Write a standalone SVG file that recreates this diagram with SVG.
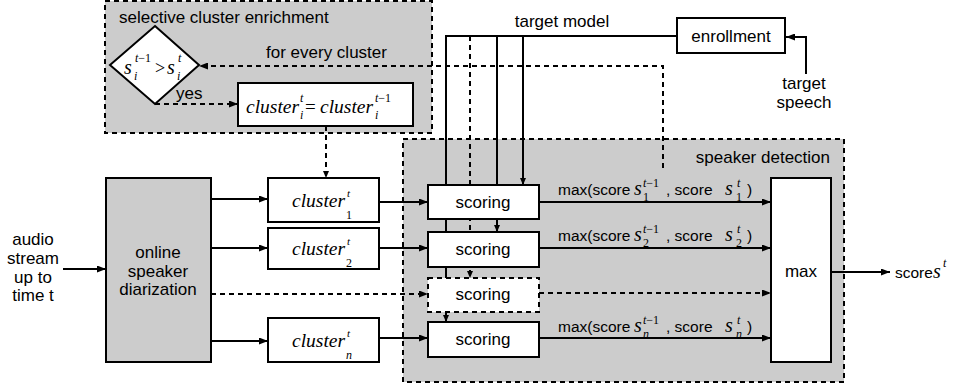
<svg xmlns="http://www.w3.org/2000/svg" width="958" height="389" viewBox="0 0 958 389">
<defs>
<marker id="ah" markerWidth="9" markerHeight="7" refX="9" refY="3.5" orient="auto" markerUnits="userSpaceOnUse">
<path d="M0,0 L9,3.5 L0,7 z" fill="#000"/>
</marker>
<marker id="ahs" markerWidth="7" markerHeight="6" refX="7" refY="3" orient="auto" markerUnits="userSpaceOnUse">
<path d="M0,0 L7,3 L0,6 z" fill="#000"/>
</marker>
<style>
.t{font-family:"Liberation Sans",Arial,sans-serif;font-size:17px;fill:#000}
.c{text-anchor:middle}
.lb{font-family:"Liberation Sans",Arial,sans-serif;font-size:15.5px;fill:#000}
.m{font-family:"Liberation Serif","Times New Roman",serif;font-style:italic;fill:#000}
.mn{font-family:"Liberation Serif","Times New Roman",serif;font-style:normal;fill:#000}
.box{fill:#fff;stroke:#000;stroke-width:2}
.gbox{fill:#cccccc;stroke:#000;stroke-width:2}
.area{fill:#cccccc;stroke:#000;stroke-width:2;stroke-dasharray:5,4}
.ln{fill:none;stroke:#000;stroke-width:2}
.dl{fill:none;stroke:#000;stroke-width:2;stroke-dasharray:5,4}
</style>
</defs>
<rect width="958" height="389" fill="#fff"/>

<g id="speaker-detection">
<rect class="area" x="403" y="139" width="441" height="243"/>
<text class="t" x="830" y="163" text-anchor="end">speaker detection</text>
</g>

<g id="selective-cluster-enrichment">
<rect class="area" x="105" y="1" width="327" height="132"/>
<text class="t" x="119" y="23">selective cluster enrichment</text>
<text class="t" x="266" y="58">for every cluster</text>
<text class="t" x="176" y="99">yes</text>
</g>

<g id="connectors">
<polyline class="ln" points="677,36 446,36 446,322" marker-end="url(#ahs)"/>
<line class="dl" x1="470" y1="36" x2="470" y2="278" marker-end="url(#ahs)"/>
<line class="ln" x1="497" y1="36" x2="497" y2="232" marker-end="url(#ahs)"/>
<line class="ln" x1="523" y1="36" x2="523" y2="185" marker-end="url(#ahs)"/>
<polyline class="ln" points="806,74 806,37 786,37" marker-end="url(#ah)"/>
<polyline class="dl" points="663,168 663,66 199,66" marker-end="url(#ah)"/>
<polyline class="dl" points="155,104 238,104" marker-end="url(#ah)"/>
<line class="dl" x1="326" y1="126" x2="326" y2="178" marker-end="url(#ahs)"/>
<line class="ln" x1="63" y1="269" x2="106" y2="269" marker-end="url(#ah)"/>
<line class="ln" x1="211" y1="199" x2="268" y2="199" marker-end="url(#ah)"/>
<line class="ln" x1="211" y1="248" x2="268" y2="248" marker-end="url(#ah)"/>
<line class="dl" x1="211" y1="294" x2="428" y2="294" marker-end="url(#ah)"/>
<line class="ln" x1="211" y1="341" x2="268" y2="341" marker-end="url(#ah)"/>
<line class="ln" x1="379" y1="202" x2="428" y2="202" marker-end="url(#ah)"/>
<line class="ln" x1="379" y1="248" x2="428" y2="248" marker-end="url(#ah)"/>
<line class="ln" x1="379" y1="338" x2="428" y2="338" marker-end="url(#ah)"/>
<line class="ln" x1="539" y1="202" x2="771" y2="202" marker-end="url(#ah)"/>
<line class="ln" x1="539" y1="248" x2="771" y2="248" marker-end="url(#ah)"/>
<line class="dl" x1="539" y1="293" x2="771" y2="293" marker-end="url(#ah)"/>
<line class="ln" x1="539" y1="338" x2="771" y2="338" marker-end="url(#ah)"/>
<line class="ln" x1="831" y1="272" x2="890" y2="272" marker-end="url(#ah)"/>
</g>

<g id="labels">
<text class="t" x="562" y="27" text-anchor="middle">target model</text>
<text class="t c" x="804" y="89">target</text>
<text class="t c" x="804" y="108">speech</text>
<text class="t c" x="33" y="245">audio</text>
<text class="t c" x="33" y="264">stream</text>
<text class="t c" x="33" y="283">up to</text>
<text class="t c" x="33" y="301">time t</text>
<g transform="translate(0,195)">
<text class="lb" x="558" y="0">max(score</text>
<text class="m" x="634" y="0" font-size="20">s</text>
<text class="m" x="643" y="-8" font-size="12">t<tspan class="mn">−1</tspan></text>
<text class="mn" x="643" y="6" font-size="12">1</text>
<text class="lb" x="666" y="0">, score</text>
<text class="m" x="725" y="0" font-size="20">s</text>
<text class="m" x="737" y="-8" font-size="12">t</text>
<text class="mn" x="736" y="6" font-size="12">1</text>
<text class="lb" x="747" y="0">)</text>
</g>
<g transform="translate(0,241)">
<text class="lb" x="558" y="0">max(score</text>
<text class="m" x="634" y="0" font-size="20">s</text>
<text class="m" x="643" y="-8" font-size="12">t<tspan class="mn">−1</tspan></text>
<text class="mn" x="643" y="6" font-size="12">2</text>
<text class="lb" x="666" y="0">, score</text>
<text class="m" x="725" y="0" font-size="20">s</text>
<text class="m" x="737" y="-8" font-size="12">t</text>
<text class="mn" x="736" y="6" font-size="12">2</text>
<text class="lb" x="747" y="0">)</text>
</g>
<g transform="translate(0,332)">
<text class="lb" x="558" y="0">max(score</text>
<text class="m" x="634" y="0" font-size="20">s</text>
<text class="m" x="643" y="-8" font-size="12">t<tspan class="mn">−1</tspan></text>
<text class="m" x="643" y="6" font-size="12">n</text>
<text class="lb" x="666" y="0">, score</text>
<text class="m" x="725" y="0" font-size="20">s</text>
<text class="m" x="737" y="-8" font-size="12">t</text>
<text class="m" x="736" y="6" font-size="12">n</text>
<text class="lb" x="747" y="0">)</text>
</g>
<text class="lb" x="895" y="278" font-size="14.5">score</text>
<text class="m" x="933" y="278" font-size="20">s</text>
<text class="m" x="943" y="267" font-size="12">t</text>
</g>

<g id="condition">
<polygon points="155,26 199,65 155,104 110,65" fill="#fff" stroke="#000" stroke-width="2"/>
<text class="m" x="124" y="74" font-size="20">s</text>
<text class="m" x="135" y="62" font-size="12">t<tspan class="mn">−1</tspan></text>
<text class="m" x="134" y="80" font-size="12">i</text>
<text class="mn" x="155" y="74" font-size="18">&gt;</text>
<text class="m" x="167" y="74" font-size="20">s</text>
<text class="m" x="178" y="62" font-size="12">t</text>
<text class="m" x="177" y="80" font-size="12">i</text>
</g>

<g id="cluster-update">
<rect class="box" x="238" y="83" width="175" height="43"/>
<text class="m" x="246" y="113" font-size="19.5">cluster</text>
<text class="m" x="300" y="102" font-size="12">t</text>
<text class="m" x="300" y="119" font-size="12">i</text>
<text class="mn" x="305" y="113" font-size="19">=</text>
<text class="m" x="320" y="113" font-size="19.5">cluster</text>
<text class="m" x="375" y="102" font-size="12">t<tspan class="mn">−1</tspan></text>
<text class="m" x="375" y="119" font-size="12">i</text>
</g>

<g id="enrollment">
<rect class="box" x="677" y="18" width="108" height="35"/>
<text class="t c" x="731" y="42">enrollment</text>
</g>

<g id="diarization">
<rect class="gbox" x="106" y="178" width="105" height="184"/>
<text class="t c" x="158" y="258">online</text>
<text class="t c" x="158" y="277">speaker</text>
<text class="t c" x="158" y="295">diarization</text>
</g>

<g id="cluster-1">
<rect class="box" x="268" y="178" width="111" height="44"/>
<text class="m" x="292" y="207" font-size="19.5">cluster</text>
<text class="m" x="347" y="197" font-size="11">t</text>
<text class="mn" x="346" y="219" font-size="12">1</text>
</g>
<g id="cluster-2">
<rect class="box" x="268" y="228" width="111" height="41"/>
<text class="m" x="292" y="255" font-size="19.5">cluster</text>
<text class="m" x="347" y="245" font-size="11">t</text>
<text class="mn" x="346" y="267" font-size="12">2</text>
</g>
<g id="cluster-n">
<rect class="box" x="268" y="318" width="111" height="44"/>
<text class="m" x="292" y="347" font-size="19.5">cluster</text>
<text class="m" x="347" y="337" font-size="11">t</text>
<text class="m" x="346" y="359" font-size="12">n</text>
</g>

<g id="scoring-1">
<rect class="box" x="428" y="185" width="111" height="34"/>
<text class="t c" x="483" y="208">scoring</text>
</g>
<g id="scoring-2">
<rect class="box" x="428" y="232" width="111" height="35"/>
<text class="t c" x="483" y="255">scoring</text>
</g>
<g id="scoring-dots">
<rect class="box" x="428" y="278" width="111" height="34" stroke-dasharray="5,4"/>
<text class="t c" x="483" y="300">scoring</text>
</g>
<g id="scoring-n">
<rect class="box" x="428" y="322" width="111" height="35"/>
<text class="t c" x="483" y="345">scoring</text>
</g>

<g id="max">
<rect class="box" x="771" y="178" width="60" height="184"/>
<text class="t c" x="801" y="277">max</text>
</g>
</svg>
